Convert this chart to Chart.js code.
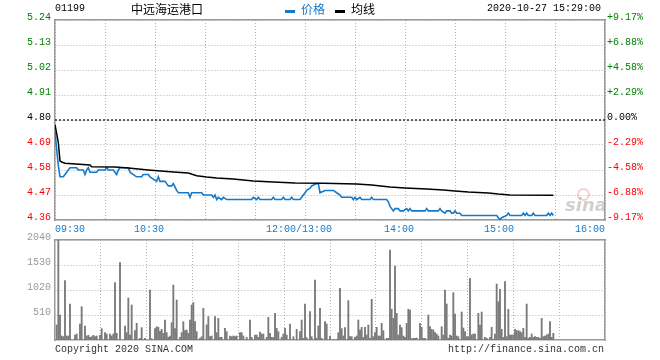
<!DOCTYPE html>
<html><head><meta charset="utf-8">
<script src="https://cdn.jsdelivr.net/npm/chart.js@4.4.1/dist/chart.umd.min.js"></script>
<style>
html,body{margin:0;padding:0;background:#fff;width:660px;height:360px;overflow:hidden;position:relative;}
canvas{position:absolute;left:0;}
#c1{top:0}
#c2{top:226px}
.t{position:absolute;white-space:nowrap;line-height:1;}
.mono{font-family:'Liberation Mono','DejaVu Sans Mono',monospace;font-size:10px;color:#000;}
.cjk{font-family:'Noto Sans CJK SC',sans-serif;font-size:12px;line-height:12px;}
.dash{position:absolute;height:3px;width:10px;}
</style></head><body>
<canvas id="c1" width="660" height="238"></canvas>
<canvas id="c2" width="660" height="134"></canvas>
<div class="t mono" style="left:55px;top:4px">01199</div>
<div class="t cjk" style="left:131px;top:3px;color:#000">中远海运港口</div>
<div class="dash" style="left:285px;top:10px;background:#1479c9"></div>
<div class="t cjk" style="left:301px;top:3px;color:#1479c9">价格</div>
<div class="dash" style="left:335px;top:10px;background:#000"></div>
<div class="t cjk" style="left:351px;top:3px;color:#000">均线</div>
<div class="t mono" style="left:487px;top:4px">2020-10-27 15:29:00</div>
<div class="t" style="left:577px;top:188px;width:9px;height:9px;border:2px solid rgba(230,120,120,0.35);border-radius:50%;"></div>
<div class="t" style="left:565px;top:196px;font-family:'DejaVu Sans',sans-serif;font-style:italic;font-weight:bold;font-size:18px;color:rgba(170,170,170,0.55)">sina</div>
<div class="t mono" style="left:55px;top:345px;color:#333">Copyright 2020 SINA.COM</div>
<div class="t mono" style="right:56px;top:345px;color:#333">http://finance.sina.com.cn</div>
<script>
// ---- data ----
const prevClose = 4.80;
const priceTicks = [4.36,4.47,4.58,4.69,4.80,4.91,5.02,5.13,5.24];
const pctLabels = ['-9.17%','-6.88%','-4.58%','-2.29%','0.00%','+2.29%','+4.58%','+6.88%','+9.17%'];
const gridMinutes = [0,30,60,90,120,150,180,210,240,270,300,330];
const timeLabels = ['09:30','10:30','12:00/13:00','14:00','15:00','16:00'];
const timeLabelMinutes = [0,60,150,210,270,330];
const volTicks = [510,1020,1530,2040];

const priceMinutes = [0,1,2,3,5,7,9,13,14,17,18,19,20,21,25,26,30,31,32,35,37,38,39,44,45,47,49,52,53,56,57,59,61,62,63,66,67,68,70,71,73,74,80,81,82,88,89,94,95,96,97,98,100,101,103,118,119,121,122,123,130,131,132,136,137,138,141,142,143,147,148,150,151,153,154,157,158,159,162,167,169,171,172,178,179,180,181,183,184,189,190,191,199,200,201,202,203,204,206,207,209,211,212,213,214,222,223,224,230,231,232,234,235,237,238,239,240,241,243,244,265,266,267,268,271,272,273,280,281,282,283,284,286,287,288,295,296,297,298,299];
const priceValues = [4.75,4.67,4.60,4.55,4.55,4.57,4.59,4.59,4.58,4.58,4.56,4.58,4.59,4.57,4.57,4.58,4.58,4.59,4.58,4.58,4.56,4.58,4.59,4.59,4.57,4.56,4.55,4.55,4.56,4.56,4.55,4.54,4.53,4.55,4.53,4.53,4.52,4.51,4.51,4.52,4.49,4.48,4.48,4.46,4.48,4.48,4.47,4.47,4.46,4.47,4.45,4.46,4.45,4.46,4.45,4.45,4.46,4.45,4.46,4.45,4.45,4.46,4.45,4.45,4.46,4.45,4.45,4.46,4.45,4.45,4.46,4.48,4.49,4.50,4.51,4.52,4.52,4.48,4.49,4.49,4.48,4.47,4.46,4.46,4.45,4.46,4.45,4.46,4.45,4.45,4.46,4.45,4.45,4.44,4.42,4.41,4.40,4.41,4.41,4.40,4.40,4.41,4.40,4.41,4.40,4.40,4.41,4.40,4.40,4.41,4.40,4.39,4.40,4.40,4.39,4.39,4.40,4.39,4.39,4.38,4.38,4.37,4.36,4.37,4.38,4.39,4.38,4.38,4.39,4.38,4.39,4.38,4.38,4.39,4.38,4.38,4.39,4.38,4.39,4.38];

const avgMinutes = [0,2,3,4,6,21,22,36,44,56,71,80,85,91,97,107,119,131,144,161,181,190,201,210,223,233,240,248,260,266,273,299];
const avgValues = [4.78,4.70,4.62,4.615,4.61,4.602,4.594,4.593,4.589,4.580,4.571,4.567,4.555,4.549,4.545,4.540,4.532,4.527,4.523,4.522,4.518,4.514,4.505,4.501,4.496,4.492,4.488,4.483,4.479,4.474,4.470,4.469];

const volMinutes = [1,2,3,4,5,6,7,8,9,12,13,15,16,18,19,20,21,22,23,24,25,27,28,30,31,33,34,35,36,37,39,42,43,44,45,46,48,49,51,52,54,57,58,60,61,62,63,64,65,66,67,68,69,70,71,72,73,75,76,77,78,79,80,81,82,83,84,85,87,88,89,91,92,93,94,96,97,98,99,100,102,103,105,106,107,108,109,111,112,113,115,117,118,120,121,122,123,124,125,127,128,129,130,131,132,133,134,136,137,138,139,141,143,145,147,148,149,150,151,153,154,156,157,158,159,160,162,163,165,167,169,170,171,172,173,174,176,177,178,180,181,182,183,184,185,186,187,188,189,190,191,192,193,194,195,196,197,199,200,201,202,203,204,205,206,207,208,209,210,211,212,213,214,215,216,217,219,220,221,222,224,225,226,227,228,229,230,232,233,234,235,236,237,238,239,240,241,242,244,245,246,247,248,249,250,251,252,254,255,256,258,259,261,262,263,264,265,266,267,268,269,270,271,272,273,274,275,276,277,278,279,280,281,282,283,284,285,286,287,288,289,290,291,292,293,294,295,296,297,298,299];
const volValues = [306,2040,510,82,68,1210,82,82,734,102,122,326,680,286,82,95,54,68,95,68,82,95,231,150,122,122,82,122,1170,136,1578,286,150,857,102,714,190,340,34,252,34,1020,27,231,272,258,177,218,136,408,150,54,82,354,1122,231,816,54,150,374,190,204,136,408,714,762,374,170,34,68,646,306,476,68,82,476,150,442,54,54,238,170,82,68,82,68,82,150,150,82,54,408,54,102,102,54,163,122,122,54,462,136,54,54,544,238,170,54,122,238,102,326,68,218,170,408,34,734,48,578,68,1224,34,286,646,34,374,326,82,14,14,150,1054,231,82,252,802,68,68,54,82,408,204,258,54,258,102,306,34,830,68,150,258,82,82,340,190,34,34,1836,626,442,1510,544,102,306,252,82,54,340,626,612,27,34,34,41,340,258,34,34,510,272,218,204,150,122,82,272,102,1020,734,34,102,82,966,530,82,68,571,245,170,68,68,1258,102,122,122,544,306,571,54,34,54,258,14,122,1142,782,1034,218,54,1190,68,626,102,102,102,218,190,190,170,150,238,54,734,34,54,122,54,68,54,54,34,442,68,82,102,122,374,54,136];

// ---- styling ----
const MONO = {family:"'Liberation Mono','DejaVu Sans Mono',monospace", size:10};
const BLUE = '#1479c9';
const GRID = '#b4b4b4';
const BORDER = '#9a9a9a';
const near = (a,b)=>Math.abs(a-b)<1e-6;

function fixedW(w){return s=>{s.width=w;};}
function fixedH(h){return s=>{s.height=h;};}

function topAxis(){
  return {type:'linear', position:'top', min:0, max:330, afterFit:fixedH(0),
    ticks:{display:false}, grid:{display:true, drawOnChartArea:false, drawTicks:false},
    border:{display:true, color:BORDER, width:1.5}};
}
function gridXAxis(h){
  return {type:'linear', position:'bottom', min:0, max:330, afterFit:fixedH(h),
    afterBuildTicks:s=>{s.ticks=gridMinutes.map(v=>({value:v}));},
    ticks:{display:false}, grid:{color:GRID, lineWidth:1, drawTicks:false},
    border:{display:true, color:BORDER, width:1.5, dash:[1,2]}};
}

new Chart(document.getElementById('c1'), {
  data:{datasets:[
    {type:'line', label:'昨收', data:[{x:0,y:prevClose},{x:330,y:prevClose}], borderColor:'#000', borderWidth:1.2, borderDash:[2,2], pointRadius:0, order:3},
    {type:'line', label:'均线', data:avgMinutes.map((m,i)=>({x:m,y:avgValues[i]})), borderColor:'#000', borderWidth:1.5, pointRadius:0, tension:0, order:1},
    {type:'line', label:'价格', data:priceMinutes.map((m,i)=>({x:m,y:priceValues[i]})), borderColor:BLUE, borderWidth:1.6, pointRadius:0, tension:0, order:2}
  ]},
  options:{
    responsive:false, animation:false, events:[],
    layout:{padding:{top:20,left:0,right:0,bottom:0}},
    plugins:{legend:{display:false}, tooltip:{enabled:false}},
    scales:{
      xTop: topAxis(),
      x: gridXAxis(0),
      xl:{type:'linear', position:'bottom', min:0, max:330, afterFit:fixedH(18),
        afterBuildTicks:s=>{const n=timeLabelMinutes.length; s.ticks=timeLabelMinutes.map((m,i)=>({value:(i===0||i===n-1)?m:m-3.6}));},
        ticks:{font:MONO, color:BLUE, align:'inner', padding:3, maxRotation:0, autoSkip:false, callback:(v,i)=>timeLabels[i]},
        grid:{display:false, drawTicks:false}, border:{display:false}},
      y:{position:'left', min:4.36, max:5.24, afterFit:fixedW(55),
        afterBuildTicks:s=>{s.ticks=priceTicks.map(v=>({value:v}));},
        ticks:{font:MONO, padding:4, labelOffset:-3, autoSkip:false,
          color:c=>near(c.tick.value,prevClose)?'#000':(c.tick.value>prevClose?'#008000':'#ff0000'),
          callback:v=>Number(v).toFixed(2)},
        grid:{color:GRID, lineWidth:1, drawTicks:false},
        border:{display:true, color:BORDER, width:1.5, dash:[1,2]}},
      yR:{position:'right', min:4.36, max:5.24, afterFit:fixedW(55),
        afterBuildTicks:s=>{s.ticks=priceTicks.map(v=>({value:v}));},
        ticks:{font:MONO, padding:2, labelOffset:-3, autoSkip:false,
          color:c=>near(c.tick.value,prevClose)?'#000':(c.tick.value>prevClose?'#008000':'#ff0000'),
          callback:(v,i)=>pctLabels[i]},
        grid:{display:true, drawOnChartArea:false, drawTicks:false},
        border:{display:true, color:BORDER, width:1.5}}
    }
  }
});

new Chart(document.getElementById('c2'), {
  data:{datasets:[
    {type:'bar', label:'成交量', data:volMinutes.map((m,i)=>({x:m,y:volValues[i]})), backgroundColor:'#7a7a7a', barThickness:1.2, borderWidth:0}
  ]},
  options:{
    responsive:false, animation:false, events:[],
    layout:{padding:{top:14,left:0,right:0,bottom:0}},
    plugins:{legend:{display:false}, tooltip:{enabled:false}},
    scales:{
      xTop: topAxis(),
      x: gridXAxis(20),
      y:{position:'left', min:0, max:2040, afterFit:fixedW(55),
        afterBuildTicks:s=>{s.ticks=volTicks.map(v=>({value:v}));},
        ticks:{font:MONO, padding:4, labelOffset:-3, autoSkip:false, color:'#999', callback:v=>String(v)},
        grid:{color:GRID, lineWidth:1, drawTicks:false},
        border:{display:true, color:BORDER, width:1.5, dash:[1,2]}},
      yR:{position:'right', min:0, max:2040, afterFit:fixedW(55),
        ticks:{display:false}, grid:{display:true, drawOnChartArea:false, drawTicks:false},
        border:{display:true, color:BORDER, width:1.5}}
    }
  }
});
</script>
</body></html>
